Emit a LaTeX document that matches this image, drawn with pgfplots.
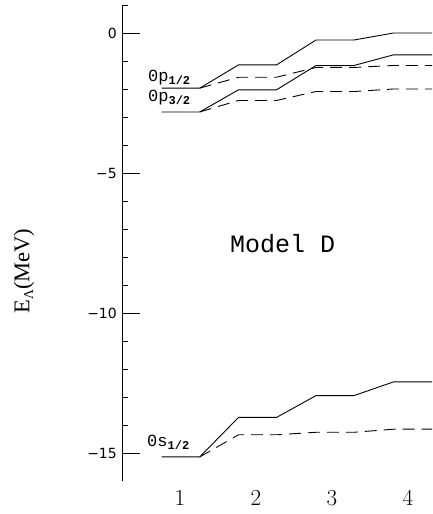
\documentclass[border=0pt]{standalone}
\usepackage{fontspec}
\usepackage{pgfplots}
\pgfplotsset{compat=1.18}
\usetikzlibrary{calc}
\newfontfamily\sansf{DejaVu Sans}
\newfontfamily\monof{Liberation Mono}
\newfontfamily\seriff{Liberation Serif}

\newcommand{\orb}[2]{{\monof\fontsize{17}{18}\selectfont #1\raisebox{-0.35ex}{\bfseries\fontsize{12}{12}\selectfont #2}}}
\newcommand{\yt}[1]{{\sansf\fontsize{14}{16}\selectfont #1}}
\newcommand{\xt}[1]{{\fontsize{23}{25}\selectfont #1}}

\begin{document}
\begin{tikzpicture}
\begin{axis}[
    scale only axis, width=310pt, height=476pt,
    xmin=0.237, xmax=4.316, ymin=-16, ymax=1,
    axis lines*=left,
    x axis line style={draw=none},
    axis line style={line width=0.8pt},
    xtick={1,2,3,4}, xticklabels={\xt{1},\xt{2},\xt{3},\xt{4}}, xtick style={draw=none},
    xticklabel style={inner sep=0pt, anchor=north, yshift=-9pt},
    ytick={-15,-10,-5,0}, yticklabels={\yt{−15},\yt{−10},\yt{−5},\yt{0}},
    minor ytick={1,-1,-2,-3,-4,-6,-7,-8,-9,-11,-12,-13,-14},
    tick align=inside, major tick length=18pt, minor tick length=6pt,
    ytick style={black, line width=0.8pt},
    yticklabel style={inner sep=0pt, xshift=-5pt},
    every axis plot/.append style={black, line width=0.9pt},
]
% 0p1/2
\addplot[solid] coordinates {(0.76,-1.97) (1.26,-1.97) (1.77,-1.14) (2.27,-1.14) (2.79,-0.25) (3.29,-0.25) (3.81,0.0) (4.32,0.0)};
\addplot[dash pattern=on 12pt off 7pt] coordinates {(1.26,-1.97) (1.77,-1.58) (2.27,-1.58) (2.79,-1.23) (3.29,-1.23) (3.81,-1.16) (4.32,-1.16)};
% 0p3/2
\addplot[solid] coordinates {(0.76,-2.82) (1.26,-2.82) (1.77,-2.03) (2.27,-2.03) (2.79,-1.16) (3.29,-1.16) (3.81,-0.78) (4.32,-0.78)};
\addplot[dash pattern=on 12pt off 7pt] coordinates {(1.26,-2.82) (1.77,-2.41) (2.27,-2.41) (2.79,-2.09) (3.29,-2.09) (3.81,-2.00) (4.32,-2.00)};
% 0s1/2
\addplot[solid] coordinates {(0.76,-15.14) (1.26,-15.14) (1.77,-13.73) (2.27,-13.73) (2.79,-12.95) (3.29,-12.95) (3.81,-12.46) (4.32,-12.46)};
\addplot[dash pattern=on 12pt off 7pt] coordinates {(1.26,-15.14) (1.77,-14.35) (2.27,-14.35) (2.79,-14.26) (3.29,-14.26) (3.81,-14.15) (4.32,-14.15)};

\node[anchor=base west, inner sep=0pt] at (axis cs:0.579,-1.733) {\orb{0p}{1/2}};
\node[anchor=base west, inner sep=0pt] at (axis cs:0.579,-2.456) {\orb{0p}{3/2}};
\node[anchor=base west, inner sep=0pt] at (axis cs:0.566,-14.77) {\orb{0s}{1/2}};
\node[anchor=base, inner sep=0pt] at (axis cs:2.35,-7.83) {\monof\fontsize{25}{28}\selectfont Model D};
\end{axis}
\node[rotate=90, anchor=center, inner sep=0pt] at ($(current axis.south west)+(-98pt,210pt)$)
  {\seriff\fontsize{22.5}{25}\selectfont E\raisebox{-0.35ex}{\fontsize{13.5}{14}\selectfont Λ}(MeV)};
\pgfresetboundingbox
\path[use as bounding box] ($(current axis.south west)+(-122pt,-33pt)$) rectangle ($(current axis.north east)+(0pt,5pt)$);
\end{tikzpicture}
\end{document}
